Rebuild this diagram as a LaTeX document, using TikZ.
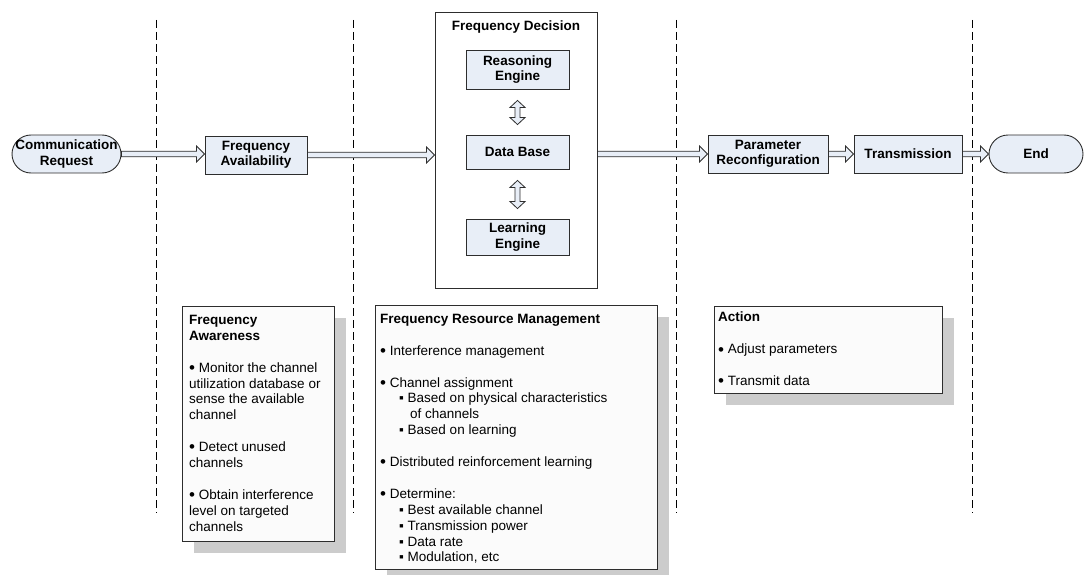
\documentclass[tikz,border=0pt]{standalone}
\usepackage{fontspec}
\setmainfont{Liberation Sans}
\usetikzlibrary{calc}

\definecolor{boxfill}{RGB}{232,238,247}
\definecolor{panelfill}{RGB}{251,251,251}
\definecolor{shadowgray}{RGB}{204,204,204}
\definecolor{edge}{RGB}{45,45,45}

\newcommand\lblfont{\fontsize{13.5}{15.5}\selectfont\bfseries}
\newcommand\bodyfont{\fontsize{13.5}{15.9}\selectfont}
\newcommand\bul{\raisebox{-1.3pt}{\fontsize{17}{15.9}\selectfont •}\ }
\newcommand\sub{\hspace*{19pt}▪ }
\newcommand\subcont{\hspace*{30pt}}

% hollow horizontal arrow from #1 to #2 (both on the same height)
\newcommand\harrow[2]{%
  \path (#1) coordinate (ha-s) (#2) coordinate (ha-t);
  \draw[fatarrow] ($(ha-s)+(0,-2.75)$) -- ($(ha-t)+(-8,-2.75)$) -- ($(ha-t)+(-8,-8)$)
    -- (ha-t) -- ($(ha-t)+(-8,8)$) -- ($(ha-t)+(-8,2.75)$) -- ($(ha-s)+(0,2.75)$) -- cycle;}

% hollow vertical double-headed arrow, tips at #1 (top) and #2 (bottom)
\newcommand\vdarrow[2]{%
  \path (#1) coordinate (va-a) (#2) coordinate (va-b);
  \draw[fatarrow] (va-a) -- ($(va-a)+(7.5,7)$) -- ($(va-a)+(2.5,7)$) -- ($(va-b)+(2.5,-7)$)
    -- ($(va-b)+(7.5,-7)$) -- (va-b) -- ($(va-b)+(-7.5,-7)$) -- ($(va-b)+(-2.5,-7)$)
    -- ($(va-a)+(-2.5,7)$) -- ($(va-a)+(-7.5,7)$) -- cycle;}

\tikzset{
  flow/.style={draw=edge, line width=0.9pt, fill=boxfill, font=\lblfont, align=center,
    minimum height=38pt, inner sep=0pt},
  terminal/.style={flow, rounded corners=19pt},
  panel/.style={draw=edge, line width=0.9pt, fill=panelfill, inner sep=0pt, anchor=north west},
  dropshadow/.style={fill=shadowgray, draw=none, inner sep=0pt, anchor=north west},
  paneltext/.style={font=\bodyfont, align=left, anchor=north west, inner sep=0pt},
  lane/.style={draw=black, line width=0.8pt, dash pattern=on 8pt off 4pt},
  fatarrow/.style={draw=edge, line width=0.8pt, fill=boxfill, line join=miter},
}

\begin{document}
\begin{tikzpicture}[x=1pt, y=-1pt]
\useasboundingbox (0,0) rectangle (1084,575);

% swim-lane separators
\draw[lane] (156,20) -- (156,513);
\draw[lane] (353,20) -- (353,513);
\draw[lane] (676,20) -- (676,513);
\draw[lane] (972,20) -- (972,513);

% main flow
\node[terminal, minimum width=109pt] (CR) at (66.5,154) {Communication\\Request};
\node[flow, minimum width=102pt] (FA) at (256,155) {Frequency\\Availability};

\node[draw=edge, line width=0.9pt, fill=white, minimum width=162pt, minimum height=276pt,
  inner sep=0pt] (FD) at (516,150) {};
\node[font=\lblfont, anchor=base] (FDtitle) at (516,30.5) {Frequency Decision};
\node[flow, minimum width=103pt, minimum height=39pt] (RE) at (517.5,69.5) {Reasoning\\Engine};
\node[flow, minimum width=103pt, minimum height=34pt] (DB) at (517.5,152) {Data Base};
\node[flow, minimum width=103pt, minimum height=36pt] (LE) at (517.5,237) {Learning\\Engine};

\node[flow, minimum width=120pt] (PR) at (768,154) {Parameter\\Reconfiguration};
\node[flow, minimum width=108pt] (TR) at (908,154) {Transmission};
\node[terminal, minimum width=94pt] (END) at (1036,154) {End};

\harrow{CR.east}{CR.east -| FA.west}
\harrow{FA.east}{FA.east -| FD.west}
\harrow{PR.west -| FD.east}{PR.west}
\harrow{PR.east}{TR.west}
\harrow{TR.east}{END.west}

\vdarrow{$(RE.south)+(0,11)$}{$(DB.north)+(0,-10)$}
\vdarrow{$(DB.south)+(0,11)$}{$(LE.north)+(0,-10)$}

% description panels with drop shadows
\node[dropshadow, minimum width=152pt, minimum height=235pt] (FAshadow) at (193.5,317.5) {};
\node[panel, minimum width=152pt, minimum height=235pt] (FApanel) at (182,306) {};
\node[paneltext] (FAtext) at (189,315) {%
  \textbf{Frequency}\\
  \textbf{Awareness}\\[15.9pt]
  \bul Monitor the channel\\
  utilization database or\\
  sense the available\\
  channel\\[15.9pt]
  \bul Detect unused\\
  channels\\[15.9pt]
  \bul Obtain interference\\
  level on targeted\\
  channels};

\node[dropshadow, minimum width=282pt, minimum height=264pt] (FRMshadow) at (386.5,316.5) {};
\node[panel, minimum width=282pt, minimum height=264pt] (FRMpanel) at (375,305) {};
\node[paneltext] (FRMtext) at (380,314) {%
  \textbf{Frequency Resource Management}\\[15.9pt]
  \bul Interference management\\[15.9pt]
  \bul Channel assignment\\
  \sub Based on physical characteristics\\
  \subcont of channels\\
  \sub Based on learning\\[15.9pt]
  \bul Distributed reinforcement learning\\[15.9pt]
  \bul Determine:\\
  \sub Best available channel\\
  \sub Transmission power\\
  \sub Data rate\\
  \sub Modulation, etc};

\node[dropshadow, minimum width=228pt, minimum height=87pt] (ACTshadow) at (725.5,317.5) {};
\node[panel, minimum width=228pt, minimum height=87pt] (ACTpanel) at (714,306) {};
\node[paneltext] (ACTtext) at (718,312) {%
  \textbf{Action}\\[15.9pt]
  \bul Adjust parameters\\[15.9pt]
  \bul Transmit data};
\end{tikzpicture}
\end{document}
